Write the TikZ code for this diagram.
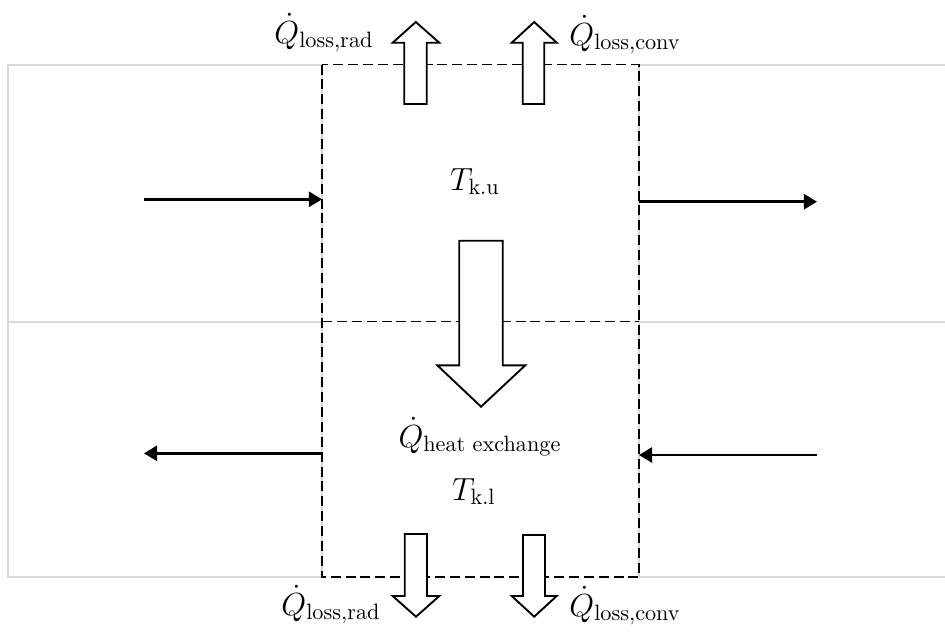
\documentclass[tikz,border=0pt]{standalone}
\usepackage{amsmath}
\usetikzlibrary{arrows.meta}
\begin{document}
\begin{tikzpicture}[x=0.45pt,y=-0.45pt,
  gridline/.style={draw=black!15, line width=0.9pt},
  boundary/.style={draw=black, line width=0.7pt, dash pattern=on 4.5pt off 2.2pt},
  flow/.style={draw=black, line width=1.15pt, -{Triangle[length=5.9pt,width=6.8pt]}},
  blockarrow/.style={draw=black, fill=white, line width=0.85pt, line join=miter},
  lbl/.style={inner sep=0pt, font=\Large}]
\useasboundingbox (0,0) rectangle (945,632);

% light grey cells
\draw[gridline] (7.5,64.5) rectangle (322,577);
\draw[gridline] (7.5,321.7) -- (322,321.7);
\draw[gridline] (946,64.5) -- (639,64.5) -- (639,577) -- (946,577);
\draw[gridline] (639,321.7) -- (946,321.7);

% dashed control volume
\coordinate (bUL) at (322,64.5);
\coordinate (bLR) at (639,577);
\coordinate (mL) at (322,321.7);
\coordinate (mR) at (639,321.7);
\draw[boundary] (bUL) rectangle (bLR);
\draw[boundary] (mL) -- (mR);

% flow arrows
\coordinate (inU) at (144,199.3);
\coordinate (inUend) at (322,199.3);
\coordinate (outUstart) at (639,201.7);
\coordinate (outU) at (817,201.7);
\coordinate (outLstart) at (322,453.3);
\coordinate (outL) at (144,453.3);
\coordinate (inL) at (817,455);
\coordinate (inLend) at (639,455);
\draw[flow] (inU) -- (inUend);
\draw[flow] (outUstart) -- (outU);
\draw[flow] (outLstart) -- (outL);
\draw[flow] (inL) -- (inLend);

% block arrows (up)
\draw[blockarrow] (404.3,104) -- (404.3,42.7) -- (392.7,42.7) -- (415.8,22) -- (439.3,42.7) -- (426.7,42.7) -- (426.7,104) -- cycle;
\draw[blockarrow] (522.7,104) -- (522.7,42.7) -- (511.7,42.7) -- (534.2,22) -- (556.7,42.7) -- (544.3,42.7) -- (544.3,104) -- cycle;
% block arrows (down)
\draw[blockarrow] (404.7,534) -- (404.7,596) -- (392.7,596) -- (416,616.7) -- (439.3,596) -- (427,596) -- (427,534) -- cycle;
\draw[blockarrow] (523,535) -- (523,596) -- (511.7,596) -- (534.2,616.7) -- (556.7,596) -- (545,596) -- (545,535) -- cycle;
% heat exchange arrow
\draw[blockarrow] (459.3,240.7) -- (459.3,365.3) -- (437.3,365.3) -- (481,406.7) -- (525.3,365.3) -- (502.7,365.3) -- (502.7,240.7) -- cycle;

% labels
\node[lbl, anchor=base west] (qradU) at (274,43) {$\dot{Q}_{\mathrm{loss,rad}}$};
\node[lbl, anchor=base west] (qconvU) at (569,45) {$\dot{Q}_{\mathrm{loss,conv}}$};
\node[lbl, anchor=base west] (qradL) at (281,615) {$\dot{Q}_{\mathrm{loss,rad}}$};
\node[lbl, anchor=base west] (qconvL) at (569,616) {$\dot{Q}_{\mathrm{loss,conv}}$};
\node[lbl, anchor=base] (tku) at (475,190) {$T_{\mathrm{k.u}}$};
\node[lbl, anchor=base] (qhx) at (480,447) {$\dot{Q}_{\text{heat exchange}}$};
\node[lbl, anchor=base] (tkl) at (474,500) {$T_{\mathrm{k.l}}$};
\end{tikzpicture}
\end{document}
